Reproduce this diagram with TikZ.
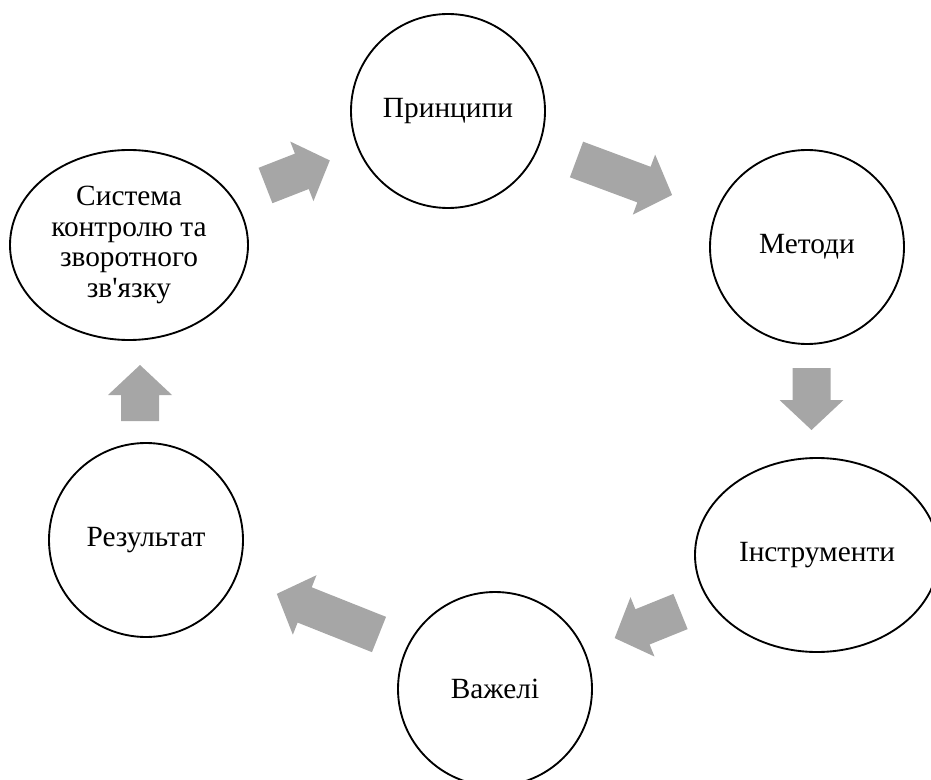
\documentclass[tikz,border=0pt]{standalone}
\usepackage{fontspec}
\setmainfont{Liberation Serif}
\usetikzlibrary{shapes.geometric}
\definecolor{arrowgray}{RGB}{166,166,166}
% block arrow: tail x, tail y, angle, length
\newcommand{\cyclearrow}[4]{%
  \fill[arrowgray, shift={(#1,#2)}, rotate=#3] (0,-19) -- ({#4-30},-19) -- ({#4-30},-32) -- (#4,0) -- ({#4-30},32) -- ({#4-30},19) -- (0,19) -- cycle ;}

\begin{document}
\begin{tikzpicture}[x=0.75pt,y=0.75pt,yscale=-1,xscale=1,
  stage/.style={draw, line width=1.4pt, circle, minimum size=145.5pt, inner sep=0pt, align=center, font=\fontsize{22}{23}\selectfont},
  oval/.style={stage, ellipse}]
        \useasboundingbox (0,0) rectangle (931,780);

        %Shape: Circle [id:princ]
        \node [stage] (princ) at (448,111) {Принципи};
        %Shape: Circle [id:metody]
        \node [stage] (metody) at (807,247) {Методи};
        %Shape: Ellipse [id:instr]
        \node [oval, minimum width=183pt, minimum height=145.5pt] (instr) at (817,555) {Інструменти};
        %Shape: Circle [id:vazheli]
        \node [stage] (vazheli) at (495,689) {Важелі};
        %Shape: Circle [id:rezult]
        \node [stage] (rezult) at (146,540) {Результат};
        %Shape: Ellipse [id:systema]
        \node [oval, minimum width=178.5pt, minimum height=142.5pt] (systema) at (129,245) {Система\\контролю та\\зворотного\\зв\textquotesingle язку};

        %Shape: Right Arrow
        \cyclearrow{265.5}{185.5}{-21.3}{69}
        \cyclearrow{576.5}{159.5}{20.4}{102}
        \cyclearrow{811.5}{368}{90}{62}
        \cyclearrow{680.5}{611.5}{158}{71}
        \cyclearrow{379}{634.5}{201.7}{110}
        \cyclearrow{140}{421}{-90}{56}

\end{tikzpicture}
\end{document}
